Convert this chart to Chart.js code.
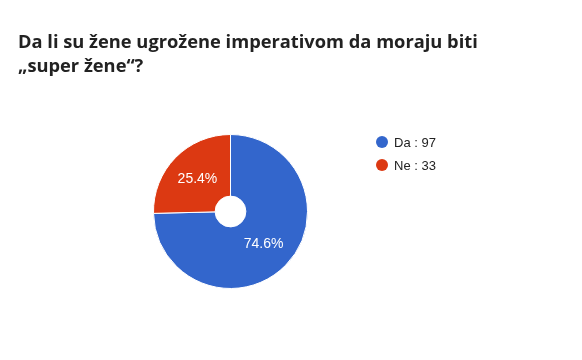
<!DOCTYPE html>
<html><head><meta charset="utf-8">
<script src="https://cdn.jsdelivr.net/npm/chart.js@4"></script>
<style>html,body{margin:0;padding:0;background:#fff}#w{width:582px;height:360px;position:relative}</style>
</head><body><div id="w"><canvas id="c"></canvas></div>
<script>
const titleLines = ["Da li su žene ugrožene imperativom da moraju biti", "„super žene“?"];
const categories = ["Da", "Ne"];
const values = [97, 33];
const colors = ["#3366cc", "#dc3912"];

const total = values.reduce((a, b) => a + b, 0);

const extras = {
  id: 'extras',
  afterDraw(chart) {
    const ctx = chart.ctx;
    ctx.save();
    // title
    ctx.fillStyle = '#222';
    ctx.font = 'bold 18.3px "Open Sans", sans-serif';
    ctx.textAlign = 'left';
    ctx.textBaseline = 'alphabetic';
    titleLines.forEach((t, i) => ctx.fillText(t, 18, 48 + i * 24));
    // slice labels
    const meta = chart.getDatasetMeta(0);
    ctx.fillStyle = '#fff';
    ctx.font = '14px "Liberation Sans", Arial, sans-serif';
    ctx.textAlign = 'center';
    ctx.textBaseline = 'middle';
    meta.data.forEach((arc, i) => {
      const p = arc.tooltipPosition();
      const pct = (values[i] / total * 100).toFixed(1) + '%';
      ctx.fillText(pct, p.x, p.y);
    });
    // legend
    ctx.font = '13px "Liberation Sans", Arial, sans-serif';
    ctx.textAlign = 'left';
    ctx.textBaseline = 'middle';
    categories.forEach((c, i) => {
      const y = 142 + i * 23;
      ctx.fillStyle = colors[i];
      ctx.beginPath();
      ctx.arc(382, y, 6, 0, Math.PI * 2);
      ctx.fill();
      ctx.fillStyle = '#222';
      ctx.fillText(c + ' : ' + values[i], 394, y + 1);
    });
    ctx.restore();
  }
};

new Chart(document.getElementById('c'), {
  type: 'doughnut',
  data: {
    labels: categories,
    datasets: [{ data: values, backgroundColor: colors, borderColor: '#fff', borderWidth: 1 }]
  },
  options: {
    responsive: true,
    maintainAspectRatio: false,
    animation: false,
    cutout: '20%',
    layout: { padding: { left: 153, right: 274, top: 134, bottom: 71 } },
    plugins: { legend: { display: false }, title: { display: false }, tooltip: { enabled: false } }
  },
  plugins: [extras]
});
</script></body></html>
